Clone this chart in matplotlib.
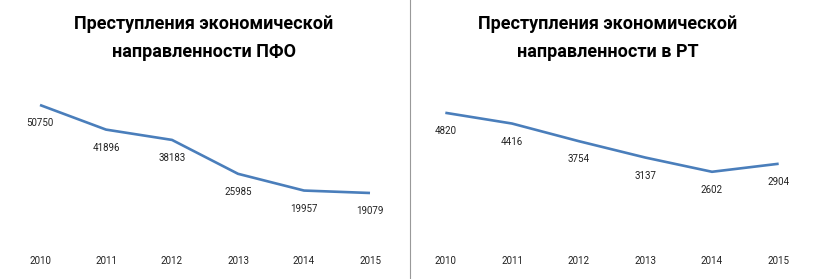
import matplotlib
matplotlib.use("Agg")
import matplotlib.pyplot as plt
from matplotlib.lines import Line2D

# данные
years = ["2010", "2011", "2012", "2013", "2014", "2015"]
pfo = [50750, 41896, 38183, 25985, 19957, 19079]
rt = [4820, 4416, 3754, 3137, 2602, 2904]

title_pfo = "Преступления экономической\nнаправленности ПФО"
title_rt = "Преступления экономической\nнаправленности в РТ"

line_color = "#4A7EBB"
plt.rcParams['font.family'] = ['Roboto', 'DejaVu Sans']

W, H = 819, 279
fig = plt.figure(figsize=(W / 100, H / 100), dpi=100)


def px_axes(left, right, top, bottom):
    # пиксели (от верхнего левого угла) -> координаты фигуры
    return [left / W, 1 - bottom / H, (right - left) / W, (bottom - top) / H]


def draw(ax, values, ymax, label_pad):
    x = range(len(values))
    ax.plot(x, values, color=line_color, linewidth=1.9, solid_capstyle='butt')
    for xi, v in zip(x, values):
        ax.annotate(str(v), (xi, v), xytext=(0, -18), textcoords='offset pixels',
                    ha='center', va='center', fontsize=7, color='#222222')
    ax.set_xlim(-0.5, len(values) - 0.5)
    ax.set_ylim(0, ymax)
    ax.set_xticks(list(x))
    ax.set_xticklabels(years, fontsize=7, color='#222222')
    ax.tick_params(axis='x', length=0, pad=label_pad)
    ax.set_yticks([])
    for s in ax.spines.values():
        s.set_visible(False)


# левый график: 0 на y=246px, 60000 -> 166.7px
ax1 = fig.add_axes(px_axes(7, 403, 246 - 166.7, 246))
draw(ax1, pfo, 60000, 7)

# правый график: 0 на y=241px, 6000 -> 159.6px
ax2 = fig.add_axes(px_axes(412, 812, 241 - 159.6, 241))
draw(ax2, rt, 6000, 10.5)

fig.text(204 / W, 1 - 38 / H, title_pfo, ha='center', va='center',
         fontsize=13, fontweight='bold', linespacing=1.75, color='black')
fig.text(608 / W, 1 - 38 / H, title_rt, ha='center', va='center',
         fontsize=13, fontweight='bold', linespacing=1.75, color='black')

# разделитель
fig.add_artist(Line2D([410 / W, 410 / W], [0, 1], color='#999999', linewidth=0.8,
                      transform=fig.transFigure))

fig.savefig("out.png", dpi=100)
